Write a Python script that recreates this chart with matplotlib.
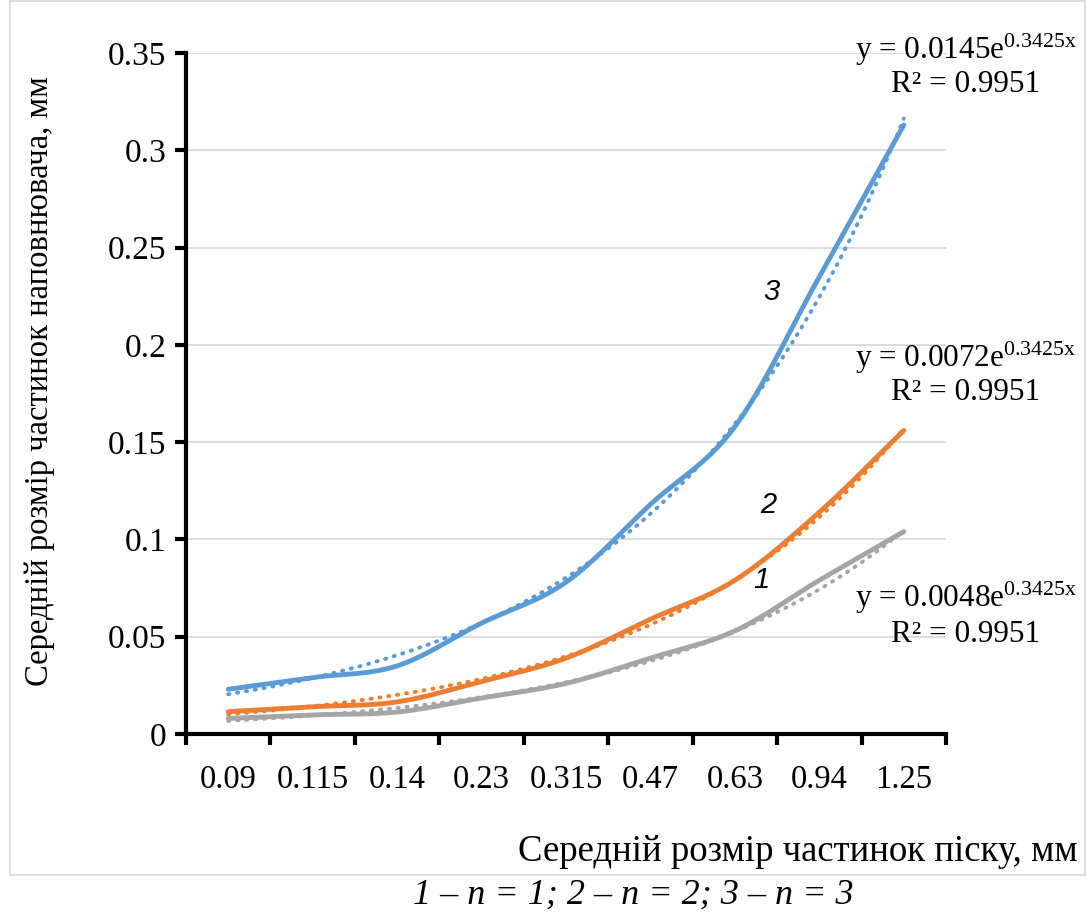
import numpy as np
import matplotlib
matplotlib.use("Agg")
import matplotlib.pyplot as plt
from matplotlib.patches import Rectangle

plt.rcParams['font.family'] = ['Liberation Serif', 'DejaVu Serif']
plt.rcParams['mathtext.fontset'] = 'custom'
plt.rcParams['mathtext.rm'] = 'Liberation Serif'
plt.rcParams['mathtext.it'] = 'Liberation Serif:italic'

categories = ['0.09', '0.115', '0.14', '0.23', '0.315', '0.47', '0.63', '0.94', '1.25']
series1 = [0.008, 0.0098, 0.0113, 0.0185, 0.026, 0.039, 0.053, 0.079, 0.104]   # n = 1
series2 = [0.0115, 0.014, 0.0165, 0.027, 0.039, 0.059, 0.079, 0.114, 0.156]  # n = 2
series3 = [0.023, 0.029, 0.035, 0.057, 0.078, 0.118, 0.158, 0.235, 0.313]  # n = 3
coef = [0.0048, 0.0072, 0.0145]
rate = 0.3425
r2 = 0.9951
colors = ['#A5A5A5', '#ED7D31', '#5B9BD5']
curve_labels = ['1', '2', '3']


def catmull_rom(y, n=40):
    y = np.asarray(y, float)
    x = np.arange(len(y), dtype=float)
    P = np.column_stack([x, y])
    P = np.vstack([P[0] - (P[1] - P[0]), P, P[-1] + (P[-1] - P[-2])])
    xs, ys = [], []
    for i in range(1, len(P) - 2):
        p0, p1, p2, p3 = P[i - 1], P[i], P[i + 1], P[i + 2]
        t = np.linspace(0, 1, n)[:, None]
        pt = 0.5 * ((2 * p1) + (-p0 + p2) * t + (2 * p0 - 5 * p1 + 4 * p2 - p3) * t ** 2
                    + (-p0 + 3 * p1 - 3 * p2 + p3) * t ** 3)
        xs.append(pt[:, 0]); ys.append(pt[:, 1])
    return np.concatenate(xs), np.concatenate(ys)


fig = plt.figure(figsize=(10.86, 9.19), dpi=100)
# chart border
fig.patches.append(Rectangle((10 / 1086, 1 - 875 / 919), 1075 / 1086, 874 / 919,
                             transform=fig.transFigure, fill=False, edgecolor='#d9d9d9', lw=1.2))
ax = fig.add_axes([186 / 1086, 1 - 734 / 919, 760 / 1086, 681 / 919])

ax.set_xlim(-0.5, len(categories) - 0.5)
ax.set_ylim(0, 0.35)
ax.set_yticks(np.arange(0, 0.351, 0.05))
ax.set_yticklabels(['0', '0.05', '0.1', '0.15', '0.2', '0.25', '0.3', '0.35'])
ax.set_xticks(np.arange(len(categories)))
ax.set_xticklabels(categories)
ax.set_xticks(np.arange(-0.5, len(categories), 1.0), minor=True)
ax.tick_params(axis='x', which='major', length=0, labelsize=23.5, pad=22)
ax.tick_params(axis='x', which='minor', length=8, width=3, direction='out')
ax.tick_params(axis='y', which='major', length=8, width=3, direction='out', labelsize=24, pad=6)
ax.grid(axis='y', color='#d9d9d9', lw=1.3)
ax.set_axisbelow(True)
for s in ['top', 'right']:
    ax.spines[s].set_visible(False)
for s in ['left', 'bottom']:
    ax.spines[s].set_linewidth(3)

xc = np.linspace(1, len(categories), 300)
for data, c, col in zip([series1, series2, series3], coef, colors):
    sx, sy = catmull_rom(data)
    ax.plot(sx, sy, color=col, lw=3.5, solid_capstyle='round', zorder=3)
    ax.plot(xc - 1, c * np.exp(rate * xc), color=col, lw=2.8,
            linestyle=(0, (0.3, 2.0)), dash_capstyle='round', zorder=4)

# curve labels
lab_pos = [(6.31, 0.0791), (6.39, 0.1177), (6.43, 0.227)]
for (lx, ly), t in zip(lab_pos, curve_labels):
    ax.text(lx, ly, t, fontsize=21, family='Liberation Sans', style='italic',
            ha='center', va='center', zorder=5)

# trendline equations
eq_pos = [(966, 598, 634), (966, 358, 393), (966, 50, 84)]
for (ex, ey1, ey2), c in zip(eq_pos, coef):
    fig.text(ex / 1086, 1 - ey1 / 919, 'y = %se$^{%s\\mathrm{x}}$' % (c, rate),
             fontsize=22.5, ha='center', va='center')
    fig.text(ex / 1086, 1 - ey2 / 919, 'R² = %s' % r2, fontsize=22.5, ha='center', va='center')

fig.text(1078 / 1086, 1 - 852 / 919, 'Середній розмір частинок піску, мм',
         fontsize=26.5, ha='right', va='center')
fig.text(40 / 1086, 1 - 381 / 919, 'Середній розмір частинок наповнювача, мм',
         fontsize=23.5, ha='center', va='center', rotation=90)
fig.text(633 / 1086, 1 - 895 / 919, '1 – n = 1; 2 – n = 2; 3 – n = 3',
         fontsize=26, style='italic', ha='center', va='center')

fig.savefig('out.png', dpi=100)
